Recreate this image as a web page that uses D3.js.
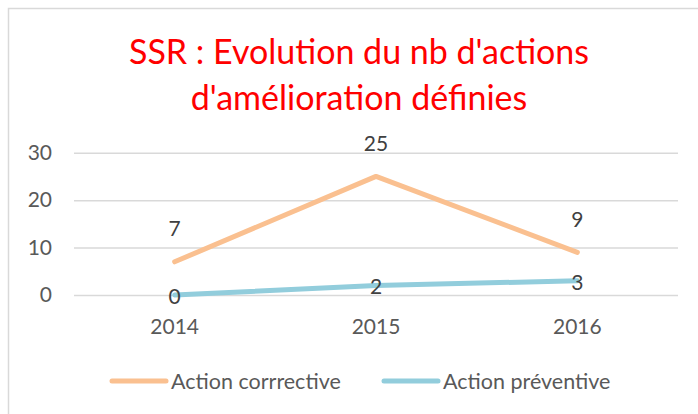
<!DOCTYPE html>
<html lang="fr">
<head>
<meta charset="utf-8">
<title>SSR</title>
<script src="https://cdn.jsdelivr.net/npm/d3@7"></script>
<style>
  html, body { margin: 0; padding: 0; background: #fff; }
  svg { display: block; font-family: "Lato", sans-serif; }
</style>
</head>
<body>
<script>
// data
let categories = ["2014", "2015", "2016"];
let corrective = [7, 25, 9];
let preventive = [0, 2, 3];
let yTicks = [0, 10, 20, 30];
let seriesNames = ["Action corrrective", "Action préventive"];
let titleLines = ["SSR : Evolution du nb d'actions", "d'amélioration définies"];

let w = 698, h = 414;
let plotLeft = 74, plotRight = 678, plotTop = 152.7, plotBottom = 295;

let svg = d3.select("body").append("svg")
    .attr("width", w)
    .attr("height", h);

// chart frame
svg.append("rect")
    .attr("x", 8.5).attr("y", 8.5)
    .attr("width", 702).attr("height", 412)
    .attr("fill", "#fff")
    .attr("stroke", "#d9d9d9")
    .attr("stroke-width", 1.5);

// title
svg.append("g").selectAll("text")
    .data(titleLines)
    .enter().append("text")
    .attr("x", 359)
    .attr("y", (d, i) => 64 + i * 46)
    .attr("text-anchor", "middle")
    .attr("font-size", "34px")
    .attr("fill", "#ff0000")
    .text(d => d);

let xScale = d3.scaleBand()
    .domain(categories)
    .range([plotLeft, plotRight]);
let cx = d => xScale(d) + xScale.bandwidth() / 2;

let yScale = d3.scaleLinear()
    .domain([0, 30])
    .range([plotBottom, plotTop]);

// y axis + gridlines
let yAxis = d3.axisLeft(yScale)
    .tickValues(yTicks)
    .tickSize(-(plotRight - plotLeft))
    .tickPadding(22);

let yg = svg.append("g")
    .attr("transform", "translate(" + plotLeft + ",0)")
    .call(yAxis);
yg.select(".domain").remove();
yg.selectAll(".tick line").attr("stroke", "#d9d9d9").attr("stroke-width", 1.5);
yg.selectAll(".tick text")
    .attr("font-size", "21px")
    .attr("font-family", "Lato, sans-serif")
    .attr("fill", "#595959");

// x axis labels
let xAxis = d3.axisBottom(xScale).tickSize(0).tickPadding(24);
let xg = svg.append("g")
    .attr("transform", "translate(0," + plotBottom + ")")
    .call(xAxis);
xg.select(".domain").remove();
xg.selectAll(".tick text")
    .attr("font-size", "21px")
    .attr("font-family", "Lato, sans-serif")
    .attr("fill", "#595959");

let line = d3.line()
    .x((d, i) => cx(categories[i]))
    .y(d => yScale(d));

let colors = ["#fac090", "#92cddc"];

// lines
[corrective, preventive].forEach((vals, k) => {
    svg.append("path")
        .datum(vals)
        .attr("d", line)
        .attr("fill", "none")
        .attr("stroke", colors[k])
        .attr("stroke-width", 5)
        .attr("stroke-linecap", "round")
        .attr("stroke-linejoin", "round");
});

// data labels
svg.append("g").selectAll("text")
    .data(corrective)
    .enter().append("text")
    .attr("x", (d, i) => cx(categories[i]))
    .attr("y", d => yScale(d) - 33)
    .attr("dy", "0.35em")
    .attr("text-anchor", "middle")
    .attr("font-size", "21px")
    .attr("fill", "#404040")
    .text(d => d);

svg.append("g").selectAll("text")
    .data(preventive)
    .enter().append("text")
    .attr("x", (d, i) => cx(categories[i]))
    .attr("y", d => yScale(d) + 1.5)
    .attr("dy", "0.35em")
    .attr("text-anchor", "middle")
    .attr("font-size", "21px")
    .attr("fill", "#404040")
    .text(d => d);

// legend
let legX = [112, 384];
let leg = svg.append("g").selectAll("g")
    .data(seriesNames)
    .enter().append("g")
    .attr("transform", (d, i) => "translate(" + legX[i] + ",381)");
leg.append("line")
    .attr("x1", 0).attr("x2", 54)
    .attr("stroke", (d, i) => colors[i])
    .attr("stroke-width", 5)
    .attr("stroke-linecap", "round");
leg.append("text")
    .attr("x", 59)
    .attr("dy", "0.35em")
    .attr("font-size", "21.5px")
    .attr("fill", "#595959")
    .text(d => d);
</script>
</body>
</html>
